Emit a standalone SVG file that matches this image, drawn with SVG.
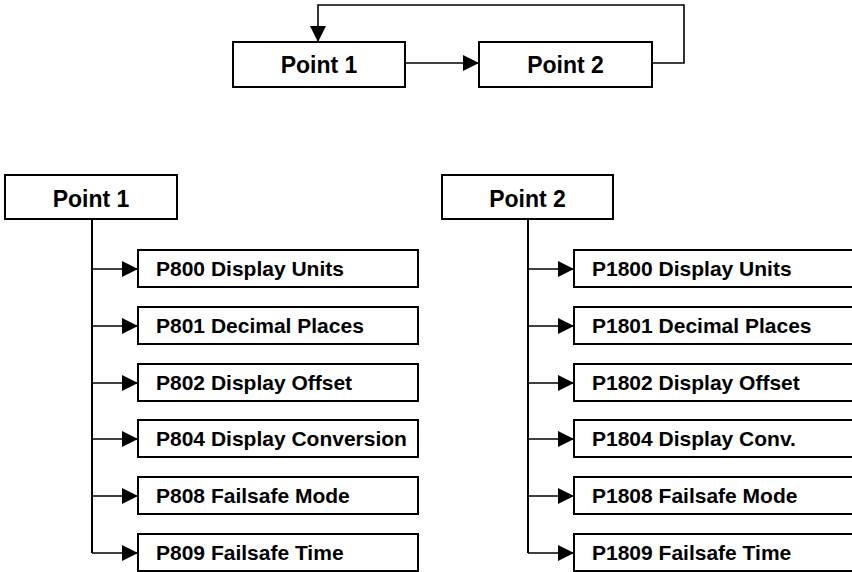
<svg xmlns="http://www.w3.org/2000/svg" width="852" height="572" viewBox="0 0 852 572">
<style>
.box{fill:#fff;stroke:#000;stroke-width:2}
.hdr{font-family:"Liberation Sans",Arial,sans-serif;font-weight:bold;font-size:23px;fill:#000;text-anchor:middle}
.ch{font-family:"Liberation Sans",Arial,sans-serif;font-weight:bold;font-size:21px;fill:#000}
.ln{fill:none;stroke:#000;stroke-width:1.6}
.vl{fill:none;stroke:#000;stroke-width:2}
</style>
<defs>
<marker id="ah" markerUnits="userSpaceOnUse" markerWidth="16" markerHeight="16" refX="16" refY="8" orient="auto">
<path d="M0,0 L16,8 L0,16 Z" fill="#000"/>
</marker>
</defs>
<g id="connectors">
<path class="ln" d="M405,63 H479" marker-end="url(#ah)"/>
<path class="ln" d="M652,63 H684 V5 H318 V42" marker-end="url(#ah)"/>
<path class="vl" d="M92,219 V553"/>
<path class="ln" d="M92,269 H138" marker-end="url(#ah)"/>
<path class="ln" d="M92,326 H138" marker-end="url(#ah)"/>
<path class="ln" d="M92,383 H138" marker-end="url(#ah)"/>
<path class="ln" d="M92,439 H138" marker-end="url(#ah)"/>
<path class="ln" d="M92,496 H138" marker-end="url(#ah)"/>
<path class="ln" d="M92,553 H138" marker-end="url(#ah)"/>
<path class="vl" d="M528,219 V553"/>
<path class="ln" d="M528,269 H574" marker-end="url(#ah)"/>
<path class="ln" d="M528,326 H574" marker-end="url(#ah)"/>
<path class="ln" d="M528,383 H574" marker-end="url(#ah)"/>
<path class="ln" d="M528,439 H574" marker-end="url(#ah)"/>
<path class="ln" d="M528,496 H574" marker-end="url(#ah)"/>
<path class="ln" d="M528,553 H574" marker-end="url(#ah)"/>
</g>
<g id="top-point1"><rect class="box" x="233" y="42" width="172" height="45"/><text class="hdr" x="319" y="73">Point 1</text></g>
<g id="top-point2"><rect class="box" x="479" y="42" width="173" height="45"/><text class="hdr" x="565.5" y="73">Point 2</text></g>
<g id="point1"><rect class="box" x="5" y="175" width="172" height="44"/><text class="hdr" x="91" y="207">Point 1</text></g>
<g id="point2"><rect class="box" x="442" y="175" width="171" height="44"/><text class="hdr" x="527.5" y="207">Point 2</text></g>
<g id="p800"><rect class="box" x="138" y="250" width="280" height="37"/><text class="ch" x="156" y="276">P800 Display Units</text></g>
<g id="p801"><rect class="box" x="138" y="307" width="280" height="37"/><text class="ch" x="156" y="333">P801 Decimal Places</text></g>
<g id="p802"><rect class="box" x="138" y="364" width="280" height="37"/><text class="ch" x="156" y="390">P802 Display Offset</text></g>
<g id="p804"><rect class="box" x="138" y="420" width="280" height="37"/><text class="ch" x="156" y="446">P804 Display Conversion</text></g>
<g id="p808"><rect class="box" x="138" y="477" width="280" height="37"/><text class="ch" x="156" y="503">P808 Failsafe Mode</text></g>
<g id="p809"><rect class="box" x="138" y="534" width="280" height="37"/><text class="ch" x="156" y="560">P809 Failsafe Time</text></g>
<g id="p1800"><rect class="box" x="574" y="250" width="282" height="37"/><text class="ch" x="592" y="276">P1800 Display Units</text></g>
<g id="p1801"><rect class="box" x="574" y="307" width="282" height="37"/><text class="ch" x="592" y="333">P1801 Decimal Places</text></g>
<g id="p1802"><rect class="box" x="574" y="364" width="282" height="37"/><text class="ch" x="592" y="390">P1802 Display Offset</text></g>
<g id="p1804"><rect class="box" x="574" y="420" width="282" height="37"/><text class="ch" x="592" y="446">P1804 Display Conv.</text></g>
<g id="p1808"><rect class="box" x="574" y="477" width="282" height="37"/><text class="ch" x="592" y="503">P1808 Failsafe Mode</text></g>
<g id="p1809"><rect class="box" x="574" y="534" width="282" height="37"/><text class="ch" x="592" y="560">P1809 Failsafe Time</text></g>
</svg>
